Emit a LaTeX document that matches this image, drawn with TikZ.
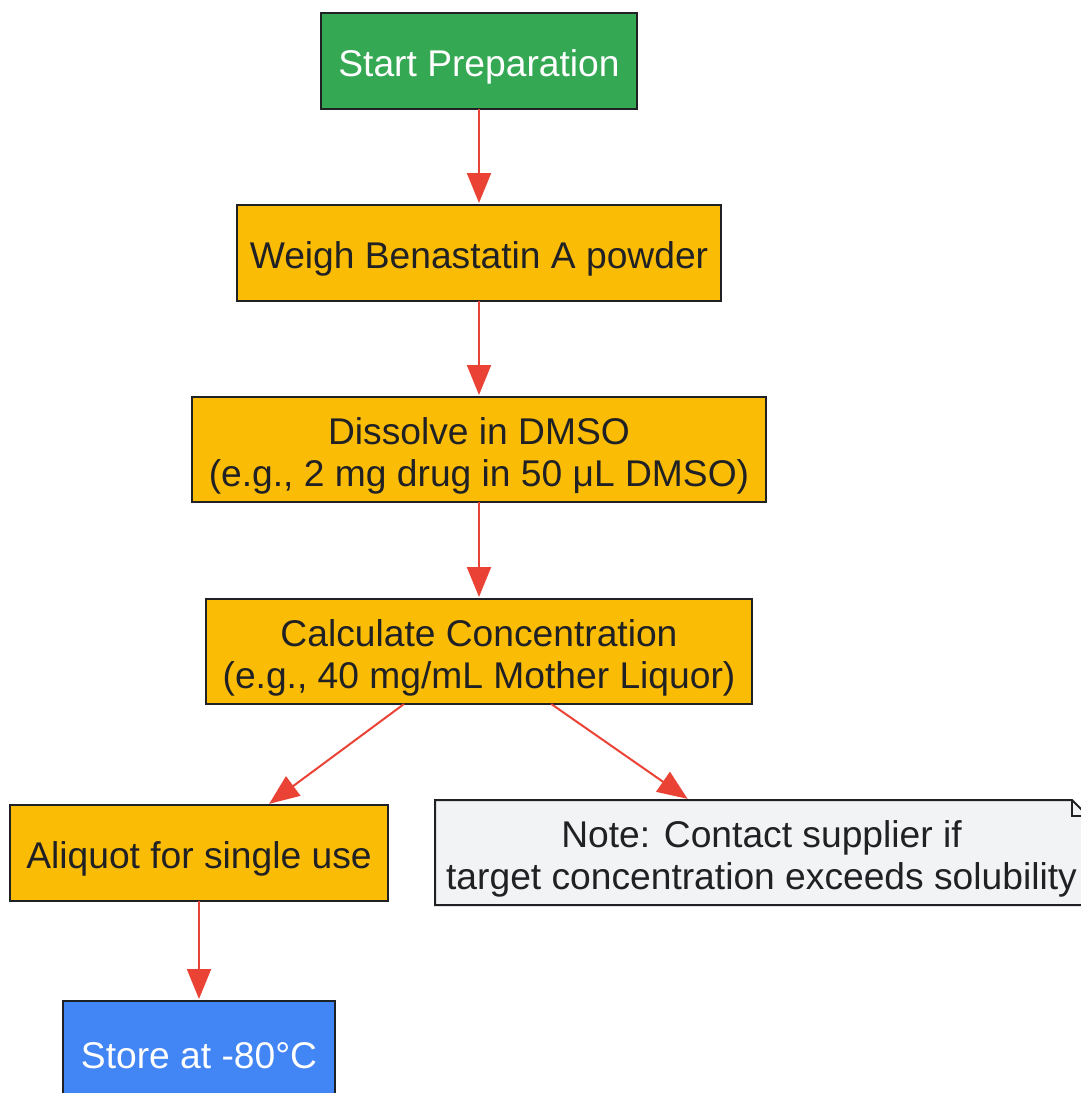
\documentclass[tikz,border=0pt]{standalone}
\usepackage{fontspec}
\setmainfont{Liberation Sans}
\usepackage{xcolor}
\definecolor{startgreen}{HTML}{34A853}
\definecolor{stepyellow}{HTML}{FBBC05}
\definecolor{storeblue}{HTML}{4285F4}
\definecolor{notegray}{HTML}{F1F3F4}
\definecolor{edgedark}{HTML}{202124}
\definecolor{flowred}{HTML}{EA4335}
\usepackage{tikz}
\usetikzlibrary{calc,positioning,arrows.meta}
\newcommand{\tallstrut}{\rule{0pt}{19.8pt}}
\tikzset{
  box/.style={rectangle, draw=edgedark, line width=1pt, align=center, inner sep=0pt, outer sep=0pt,
    font=\fontsize{18.6}{21}\selectfont},
  startbox/.style={box, fill=startgreen, text=white, minimum width=158pt, minimum height=48pt},
  prep/.style={box, fill=stepyellow, text=edgedark, minimum height=48pt},
  prep2/.style={box, fill=stepyellow, text=edgedark, minimum height=52.5pt},
  storebox/.style={box, fill=storeblue, text=white, minimum width=136pt, minimum height=48pt},
  notebox/.style={rectangle, align=center, inner sep=0pt, outer sep=0pt, text=edgedark,
    minimum width=326.5pt, minimum height=52.5pt, font=\fontsize{18.6}{21}\selectfont},
  line/.style={draw=flowred, line width=1pt, -{Triangle[length=15pt,width=12pt]}, shorten >=1pt},
}
\begin{document}
\begin{tikzpicture}[x=0.5pt,y=-0.5pt]
  \useasboundingbox (0,0) rectangle (1081,1093);
  \node[startbox] (start) at (479,61) {\tallstrut Start Preparation};
  \node[prep,minimum width=242pt,below=48pt of start] (weigh) {\tallstrut Weigh Benastatin A powder};
  \node[prep2,minimum width=287pt,below=48pt of weigh] (dissolve) {\tallstrut Dissolve in DMSO\\(e.g., 2 mg drug in 50 μL DMSO)};
  \node[prep2,minimum width=273pt,below=48.5pt of dissolve] (calc) {\tallstrut Calculate Concentration\\(e.g., 40 mg/mL Mother Liquor)};
  \node[prep,minimum width=189pt] (aliquot) at (199,853) {\tallstrut Aliquot for single use};
  \node[storebox,below=50pt of aliquot] (store) {\tallstrut Store at -80°C};
  % note with folded corner
  \node[notebox] (note) at (761.5,852.5) {};
  \draw[edgedark,line width=1pt,fill=notegray] (note.north west) -- ($(note.north east)+(-16,0)$)
    -- ($(note.north east)+(0,16)$) -- (note.south east) -- (note.south west) -- cycle;
  \draw[edgedark,line width=1pt] ($(note.north east)+(-16,0)$) -- ($(note.north east)+(-16,16)$)
    -- ($(note.north east)+(0,16)$);
  \node[notebox] at (note) {\tallstrut Note: Contact supplier if\\target concentration exceeds solubility};
  \path[line]
    (start) -- (weigh);
  \path[line]
    (weigh) -- (dissolve);
  \path[line]
    (dissolve) -- (calc);
  \path[line]
    (calc.215.7) -- (aliquot.35.2);
  \path[line]
    (calc.324.3) -- (note.144.5);
  \path[line]
    (aliquot) -- (store);
\end{tikzpicture}
\end{document}
